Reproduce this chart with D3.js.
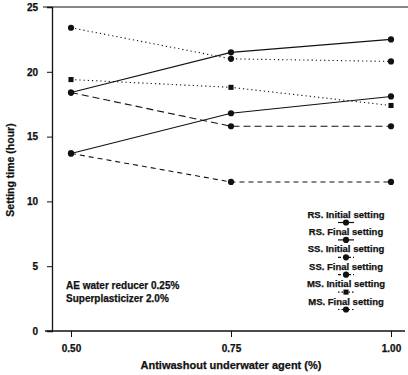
<!DOCTYPE html>
<html>
<head>
<meta charset="utf-8">
<script src="https://cdn.jsdelivr.net/npm/d3@7"></script>
<style>
  html, body { margin: 0; padding: 0; background: #fff; }
  svg text { font-family: "Liberation Sans", Arial, sans-serif; font-weight: bold; fill: #111; stroke: #111; stroke-width: 0.25; }
</style>
</head>
<body>
<svg id="chart" width="408" height="375"></svg>
<script>
// Anti-washout agent dosage (%)
const dosages = [0.50, 0.75, 1.00];
const xTickLabels = ["0.50", "0.75", "1.00"];
const yTicks = [0, 5, 10, 15, 20, 25];

// Setting times (hour) for each cement type
const rsInitial = [13.7, 16.8, 18.1];
const rsFinal   = [18.4, 21.5, 22.5];
const ssInitial = [13.7, 11.5, 11.5];
const ssFinal   = [18.4, 15.8, 15.8];
const msInitial = [19.4, 18.8, 17.4];
const msFinal   = [23.4, 21.0, 20.8];

const seriesNames = [
  "RS. Initial setting", "RS. Final setting",
  "SS. Initial setting", "SS. Final setting",
  "MS. Initial setting", "MS. Final setting"
];
const seriesValues = [rsInitial, rsFinal, ssInitial, ssFinal, msInitial, msFinal];
const seriesDash = ["none", "none", "5,4", "7,4", "1.2,3", "1.2,3"];
const seriesSymbol = ["circle", "circle", "circle", "circle", "square", "circle"];

const svg = d3.select("#chart");
const ink = "#111";

const x = d3.scaleLinear().domain([0.5, 1.0]).range([71, 391]);
const y = d3.scaleLinear().domain([0, 25]).range([331, 7]);

// Top frame line
svg.append("line").attr("x1", 43).attr("x2", 408).attr("y1", y(25)).attr("y2", y(25))
  .attr("stroke", ink).attr("stroke-width", 1);

// Y axis
const yAxis = d3.axisLeft(y).tickValues(yTicks).tickSize(5).tickPadding(9);
const gy = svg.append("g").attr("transform", "translate(52,0)").call(yAxis);
gy.select(".domain").attr("stroke", ink).attr("stroke-width", 1.3);
gy.selectAll(".tick line").attr("stroke", ink);
gy.selectAll(".tick text").attr("font-size", 10).attr("fill", ink);

// X axis
const xAxis = d3.axisBottom(x).tickValues(dosages)
  .tickFormat((d, i) => xTickLabels[i]).tickSize(6).tickPadding(8);
const gx = svg.append("g").attr("transform", `translate(0,${y(0)})`).call(xAxis);
gx.select(".domain").remove();
gx.append("line").attr("x1", 45).attr("x2", 405).attr("y1", 0).attr("y2", 0)
  .attr("stroke", ink).attr("stroke-width", 1.3);
gx.selectAll(".tick line").attr("stroke", ink);
gx.selectAll(".tick text").attr("font-size", 10).attr("fill", ink);

// Axis titles
svg.append("text").attr("x", 231).attr("y", 369).attr("text-anchor", "middle")
  .attr("font-size", 11).text("Antiwashout underwater agent (%)");
svg.append("text").attr("transform", "translate(14,170) rotate(-90)")
  .attr("text-anchor", "middle").attr("font-size", 10.5).text("Setting time (hour)");

// Series lines and markers
const line = d3.line().x((d, i) => x(dosages[i])).y(d => y(d));
const sym = {
  circle: d3.symbol().type(d3.symbolCircle).size(30),
  square: d3.symbol().type(d3.symbolSquare).size(26)
};

seriesValues.forEach((vals, s) => {
  svg.append("path").datum(vals).attr("d", line)
    .attr("fill", "none").attr("stroke", ink).attr("stroke-width", 1.1)
    .attr("stroke-dasharray", seriesDash[s] === "none" ? null : seriesDash[s]);
  svg.selectAll(null).data(vals).enter().append("path")
    .attr("d", sym[seriesSymbol[s]])
    .attr("transform", (d, i) => `translate(${x(dosages[i])},${y(d)})`)
    .attr("fill", ink);
});

// Legend
const legend = svg.append("g").attr("transform", "translate(346,0)");
seriesNames.forEach((name, s) => {
  const ty = 217.5 + s * 17.4;
  legend.append("text").attr("x", 0).attr("y", ty).attr("text-anchor", "middle")
    .attr("font-size", 9.5).text(name);
  const my = ty + 5;
  legend.append("line").attr("x1", -8).attr("x2", 8).attr("y1", my).attr("y2", my)
    .attr("stroke", ink).attr("stroke-width", 1.2)
    .attr("stroke-dasharray", seriesDash[s] === "none" ? null : (s < 4 ? "3,2" : "1.5,2"));
  legend.append("path").attr("d", sym[seriesSymbol[s]])
    .attr("transform", `translate(0,${my})`).attr("fill", ink);
});

// Mix note
const note = svg.append("g").attr("font-size", 10);
note.append("text").attr("x", 66).attr("y", 289).text("AE water reducer 0.25%");
note.append("text").attr("x", 66).attr("y", 302).text("Superplasticizer 2.0%");
</script>
</body>
</html>
